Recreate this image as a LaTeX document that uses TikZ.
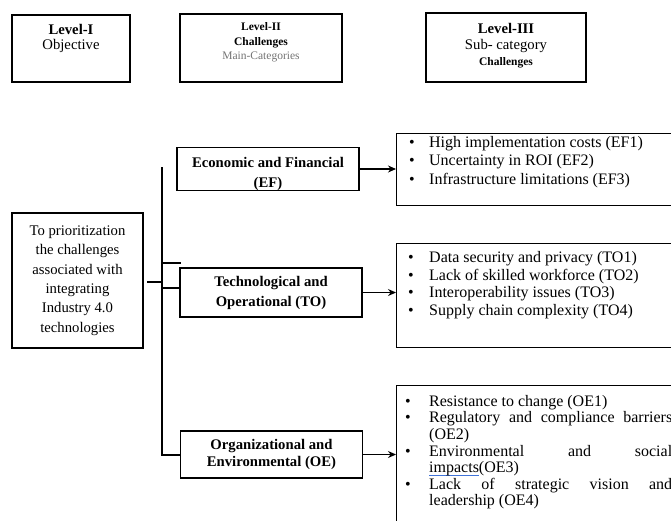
\documentclass[tikz,border=0pt]{standalone}
\usepackage{fontspec}
\setmainfont{Liberation Serif}
\usepackage{tikz}
\usetikzlibrary{arrows.meta}
\usetikzlibrary{positioning}
\definecolor{subgray}{rgb}{0.45,0.45,0.45}
\definecolor{spellblue}{rgb}{0.25,0.45,0.85}
\tikzset{
  >={Stealth[length=8pt,width=7pt]},
  medline/.style={draw=black,line width=1.1pt},
  medlinep/.style={draw=black,line width=1.1pt,->},
  headbox/.style={draw=black,line width=1.1pt,inner sep=0pt},
  headtext/.style={align=center,inner sep=0pt},
  catbox/.style={draw=black,line width=1.1pt,minimum width=182pt,inner sep=0pt,
    align=center,font=\bfseries\fontsize{14.7}{20}\selectfont},
  listbox/.style={draw=black,line width=1.1pt,anchor=north west,minimum width=284pt},
  listtext/.style={anchor=north west,align=left,inner sep=0pt}
}
\newcommand{\bul}[1][20pt]{\makebox[#1][l]{\textbullet}}

\begin{document}
\begin{tikzpicture}[x=1pt,y=-1pt]
  \useasboundingbox (0,0) rectangle (671,520);
  \clip (0,0) rectangle (671,520);
  % level headers
  \node[headbox,minimum width=118pt,minimum height=67pt] (lvone) at (71,48.5) {};
  \node[headtext,below=10pt of lvone.north,font=\fontsize{14.7}{15}\selectfont] (lvonet)
    {\textbf{Level-I}\\Objective};
  \node[headbox,minimum width=162pt,minimum height=68pt] (lvtwo) at (261,48) {};
  \node[headtext,below=9pt of lvtwo.north,font=\fontsize{11.5}{14.5}\selectfont] (lvtwot)
    {\textbf{Level-II}\\\textbf{Challenges}\\\textcolor{subgray}{Main-Categories}};
  \node[headbox,minimum width=160pt,minimum height=69pt] (lvthree) at (506,47.5) {};
  \node[headtext,below=11pt of lvthree.north,font=\fontsize{14.7}{16}\selectfont] (lvthreet)
    {\textbf{Level-III}\\Sub- category\\{\fontsize{11.5}{14}\selectfont\textbf{Challenges}}};
  % objective
  \node[draw=black,line width=1.1pt,minimum width=131pt,minimum height=135pt,align=center,
    font=\fontsize{14.7}{19.4}\selectfont] (obj) at (77.5,280.5)
    {To prioritization\\the challenges\\associated with\\integrating\\Industry 4.0\\technologies};
  % main categories
  \node[catbox,minimum height=42pt] (ef) at (268,169)
    {\rule{0pt}{19.5pt}Economic and Financial\\(EF)};
  \node[catbox,minimum height=49pt] (to) at (271,292.5)
    {Technological and\\Operational (TO)};
  \node[catbox,minimum height=47pt,font=\bfseries\fontsize{14.7}{16.5}\selectfont] (oe) at (271.5,454.5)
    {Organizational and\\Environmental (OE)};
  % sub-categories
  \node[listbox,minimum height=72pt] (lef) at (396,133) {};
  \node[listtext,font=\fontsize{16}{18.5}\selectfont] (lefs) at (409,136)
    {\bul High implementation costs (EF1)\\
     \bul Uncertainty in ROI (EF2)\\
     \bul Infrastructure limitations (EF3)};
  \node[listbox,minimum height=104pt] (lto) at (396,243) {};
  \node[listtext,font=\fontsize{16}{17.7}\selectfont] (ltos) at (408,251)
    {\bul[21pt]Data security and privacy (TO1)\\
     \bul[21pt]Lack of skilled workforce (TO2)\\
     \bul[21pt]Interoperability issues (TO3)\\
     \bul[21pt]Supply chain complexity (TO4)};
  \node[listbox,minimum height=145pt] (loe) at (396,385) {};
  \node[listtext,font=\fontsize{16}{16.6}\selectfont] (loes) at (405,395)
    {\bul[24pt]Resistance to change (OE1)\\
     \bul[24pt]\makebox[243pt][s]{Regulatory and compliance barriers}\\
     \makebox[24pt]{}(OE2)\\
     \bul[24pt]\makebox[243pt][s]{Environmental and social}\\
     \makebox[24pt]{}{\color{spellblue}\rlap{\rule[-3.6pt]{49.5pt}{1pt}}}impacts(OE3)\\
     \bul[24pt]\makebox[243pt][s]{Lack of strategic vision and}\\
     \makebox[24pt]{}leadership (OE4)};
  % connectors
  \coordinate (ttop) at (162,167);
  \coordinate (tbot) at (162,455);
  \coordinate (stub) at (181,263);
  \coordinate (objout) at (147,282);
  \coordinate (tjoin) at (162,288);
  \draw (ttop) -- (tbot) -- (tbot -| oe.west) [medline];
  \draw (ttop |- stub) -- (stub) [medline];
  \draw (objout) -- (objout -| ttop) [medline];
  \draw (tjoin) -- (tjoin -| to.west) [medline];
  \draw (ef.east) -- (ef.east -| lef.west) [medlinep];
  \draw (to.east) -- (to.east -| lto.west) [medlinep];
  \draw (oe.east) -- (oe.east -| loe.west) [medlinep];
\end{tikzpicture}
\end{document}
